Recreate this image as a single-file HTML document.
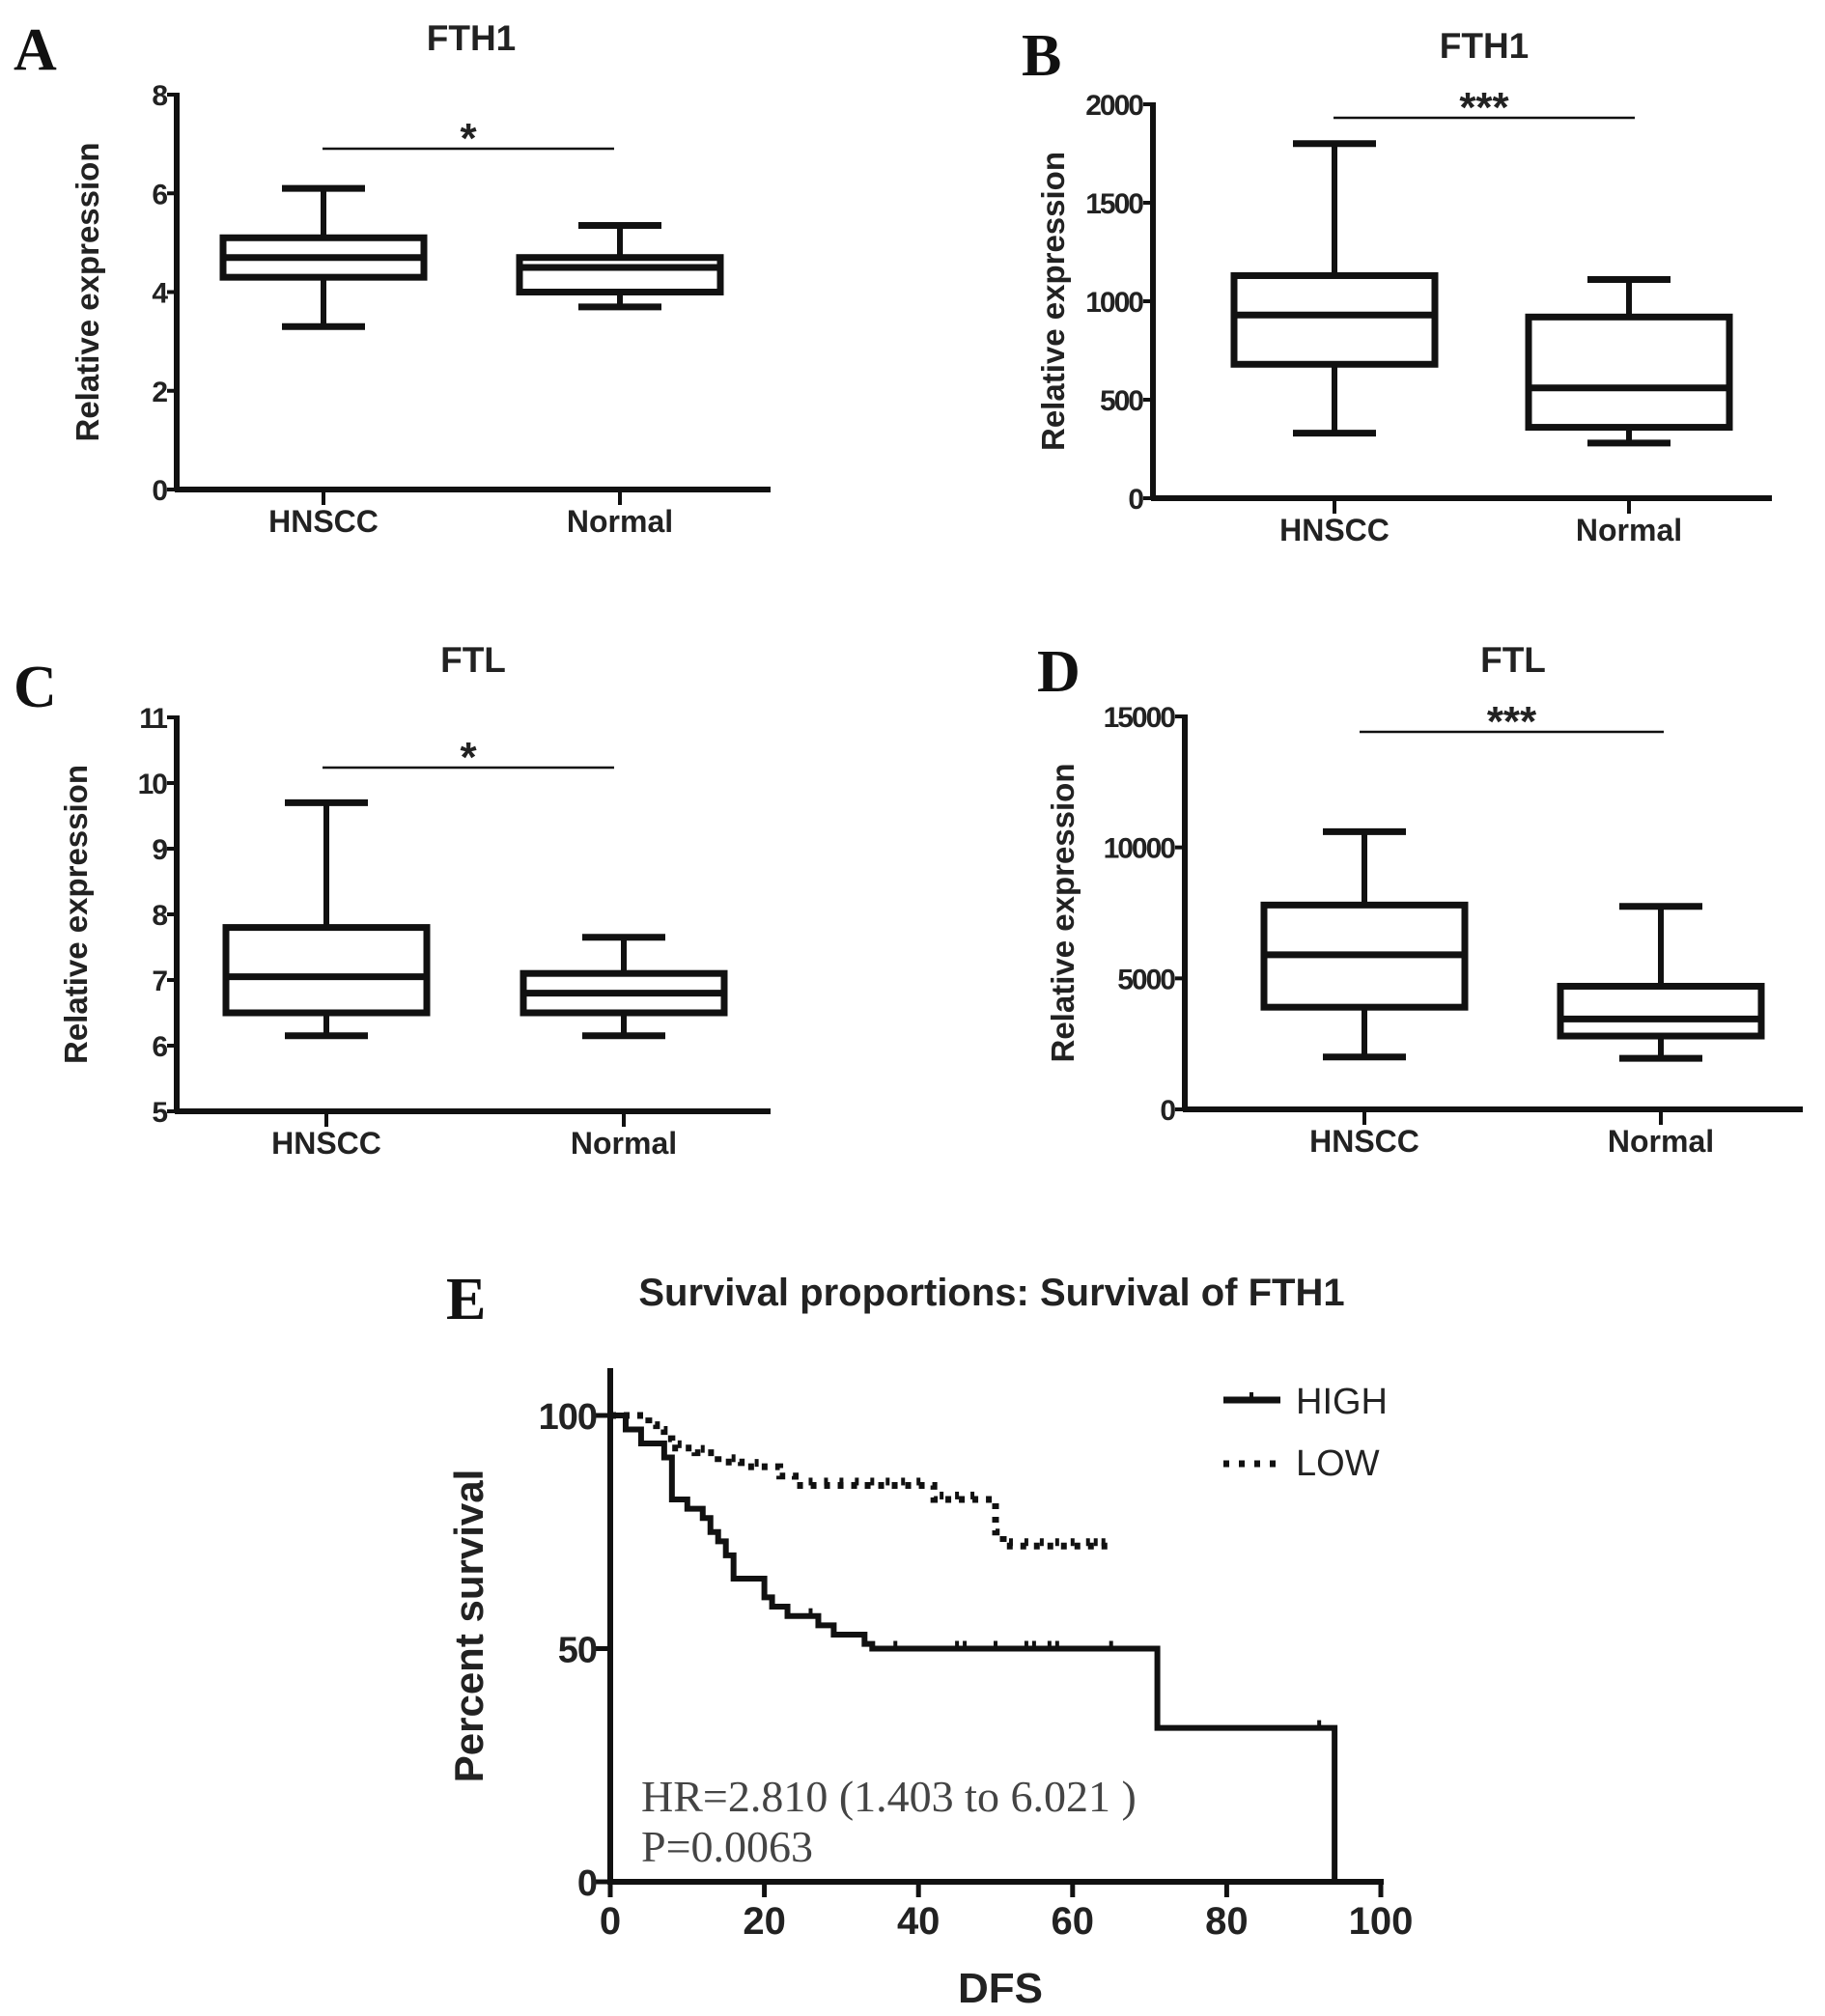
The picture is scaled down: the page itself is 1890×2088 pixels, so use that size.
<!DOCTYPE html>
<html><head><meta charset="utf-8"><style>
html,body{margin:0;padding:0;background:#fff;}
svg{display:block;}
.t{font-family:"Liberation Sans",sans-serif;font-weight:bold;fill:#222;}
.L{font-family:"Liberation Serif",serif;font-weight:bold;fill:#111;}
</style></head><body>
<svg id="fig" width="1890" height="2088" viewBox="0 0 1890 2088" xmlns="http://www.w3.org/2000/svg"></svg>
<script>
// ---- box plot data ----
const categories = ["HNSCC","Normal"];
const aMin=[3.3,3.7], aQ1=[4.3,4.0], aMed=[4.7,4.5], aQ3=[5.1,4.7], aMax=[6.1,5.35];
const aTicks=[0,2,4,6,8];
const bMin=[330,280], bQ1=[680,360], bMed=[930,560], bQ3=[1130,920], bMax=[1800,1110];
const bTicks=[0,500,1000,1500,2000];
const cMin=[6.15,6.15], cQ1=[6.5,6.5], cMed=[7.05,6.8], cQ3=[7.8,7.1], cMax=[9.7,7.65];
const cTicks=[5,6,7,8,9,10,11];
const dMin=[2000,1950], dQ1=[3900,2800], dMed=[5900,3450], dQ3=[7800,4700], dMax=[10600,7750];
const dTicks=[0,5000,10000,15000];
// ---- survival data ----
const highT=[0,2,4,7,8,8,10,12,13,14,15,16,20,21,23,27,29,33,34,71,94];
const highS=[100,97,94,91,88,82,80,78,75,73,70,65,61,59,57,55,53,51,50,33,0];
const highCensT=[26,37,45,46,50,54,55,57,58,65,92];
const lowT=[0,5,6,7,8,11,14,17,22,24,42,50,51,65];
const lowS=[100,98,97,95,93,92,90,89,87,85,82,75,72,72];
const lowCensT=[9,12,16,19,26,28,30,32,34,36,38,40,43,45,47,52,54,56,58,60,62,63,64];
const survTicksX=[0,20,40,60,80,100];
const survTicksY=[0,50,100];

const NS="http://www.w3.org/2000/svg";
const svg=document.getElementById('fig');
function mk(tag,attrs,parent){const e=document.createElementNS(NS,tag);for(const k in attrs)e.setAttribute(k,attrs[k]);(parent||svg).appendChild(e);return e;}
function line(g,x1,y1,x2,y2,w){return mk('line',{x1,y1,x2,y2,stroke:'#111','stroke-width':w},g);}
function txt(g,x,y,s,size,cls,anchor){const e=mk('text',{x,y,'font-size':size,'class':cls,'text-anchor':anchor||'middle'},g);e.textContent=s;return e;}

function boxPanel(o){
  const g=mk('g',{});
  
  
  const ys=v=>o.y0+(v-o.vmin)/(o.vmax-o.vmin)*(o.y1-o.y0);
  const xs=[o.cx0,o.cx1];
  const lt=txt(g,o.lx,o.ly,o.letter,62,'L','start');
  
  const tt=txt(g,o.tx,o.ty,o.title,37,'t');
  
  line(g,o.ax,o.y1-2,o.ax,o.y0+2,6);
  line(g,o.ax-2,o.y0,o.xend,o.y0,6);
  o.ticks.forEach(v=>{const y=ys(v);line(g,o.ax-10,y,o.ax,y,4);
    const tl=txt(g,o.ax-11,y+11,String(v),30,'t','end');
    tl.setAttribute('letter-spacing','-2');
    });
  const yl=txt(g,0,0,'Relative expression',33,'t');
  yl.setAttribute('transform',`translate(${o.ylx},${(o.y0+o.y1)/2}) rotate(-90)`);
  
  categories.forEach((c,i)=>{
    const x=xs[i];line(g,x,o.y0,x,o.y0+16,4);
    const cl=txt(g,x,o.y0+44,c,32,'t');
    
    const b=mk('g',{},g);
    
    
    line(b,x,ys(o.max[i]),x,ys(o.q3[i]),6);
    line(b,x,ys(o.min[i]),x,ys(o.q1[i]),6);
    line(b,x-43,ys(o.max[i]),x+43,ys(o.max[i]),7);
    line(b,x-43,ys(o.min[i]),x+43,ys(o.min[i]),7);
    mk('rect',{x:x-104,y:ys(o.q3[i]),width:208,height:ys(o.q1[i])-ys(o.q3[i]),fill:'none',stroke:'#111','stroke-width':7},b);
    line(b,x-104,ys(o.med[i]),x+104,ys(o.med[i]),7);
  });
  const sl=line(g,o.sx0,o.sy,o.sx1,o.sy,2.5);
  
  const st=txt(g,(o.sx0+o.sx1)/2,o.sy+4,o.sig,44,'t');
  st.setAttribute('fill','#444');
}
boxPanel({name:'panel-a',letter:'A',lx:14,ly:72,title:'FTH1',tx:488,ty:52,ax:183,y0:507,y1:98,xend:798,vmin:0,vmax:8,ticks:aTicks,cx0:335,cx1:642,min:aMin,q1:aQ1,med:aMed,q3:aQ3,max:aMax,ylx:102,sx0:334,sx1:636,sy:154,sig:'*'});
boxPanel({name:'panel-b',letter:'B',lx:1058,ly:78,title:'FTH1',tx:1537,ty:60,ax:1194,y0:516,y1:108,xend:1835,vmin:0,vmax:2000,ticks:bTicks,cx0:1382,cx1:1687,min:bMin,q1:bQ1,med:bMed,q3:bQ3,max:bMax,ylx:1102,sx0:1381,sx1:1693,sy:122,sig:'***'});
boxPanel({name:'panel-c',letter:'C',lx:14,ly:732,title:'FTL',tx:490,ty:696,ax:183,y0:1151,y1:743,xend:798,vmin:5,vmax:11,ticks:cTicks,cx0:338,cx1:646,min:cMin,q1:cQ1,med:cMed,q3:cQ3,max:cMax,ylx:90,sx0:334,sx1:636,sy:795,sig:'*'});
boxPanel({name:'panel-d',letter:'D',lx:1074,ly:716,title:'FTL',tx:1567,ty:696,ax:1227,y0:1149,y1:742,xend:1867,vmin:0,vmax:15000,ticks:dTicks,cx0:1413,cx1:1720,min:dMin,q1:dQ1,med:dMed,q3:dQ3,max:dMax,ylx:1112,sx0:1408,sx1:1723,sy:758,sig:'***'});

// ---- survival panel ----
(function(){
  const g=mk('g',{});
  
  
  const X0=632,X1=1430,Y0=1949,Y100=1466;
  const xs=t=>X0+t/100*(X1-X0), ys=s=>Y0+s/100*(Y100-Y0);
  const lt=txt(g,462,1366,'E',62,'L','start');
  
  const tt=txt(g,1027,1352,'Survival proportions: Survival of FTH1',40,'t');
  
  line(g,X0,1417,X0,Y0+3,6);line(g,X0-3,Y0,X1+3,Y0,6);
  survTicksX.forEach(v=>{line(g,xs(v),Y0,xs(v),Y0+16,5);
    const l=txt(g,xs(v),Y0+54,String(v),40,'t');});
  survTicksY.forEach(v=>{line(g,X0-16,ys(v),X0,ys(v),5);
    const l=txt(g,X0-14,ys(v)+14,String(v),38,'t','end');l.setAttribute('letter-spacing','-1');});
  const yl=txt(g,0,0,'Percent survival',42,'t');
  yl.setAttribute('transform','translate(500,1684) rotate(-90)');
  
  const xl=txt(g,1036,2074,'DFS',44,'t');
  
  function stepPath(T,S){let d=`M${xs(T[0])},${ys(S[0])}`;for(let i=1;i<T.length;i++){d+=` H${xs(T[i])} V${ys(S[i])}`;}return d;}
  function survAt(T,S,t){let s=S[0];for(let i=0;i<T.length;i++){if(T[i]<=t)s=S[i];}return s;}
  const ph=mk('path',{d:stepPath(highT,highS),fill:'none',stroke:'#111','stroke-width':6},g);
  
  highCensT.forEach(t=>{const y=ys(survAt(highT,highS,t));const c=line(g,xs(t),y-8,xs(t),y,4);
    });
  const pl=mk('path',{d:stepPath(lowT,lowS),fill:'none',stroke:'#111','stroke-width':7,'stroke-dasharray':'6 8'},g);
  
  lowCensT.forEach(t=>{const y=ys(survAt(lowT,lowS,t));const c=line(g,xs(t),y-8,xs(t),y,4);
    });
  const lg=mk('g',{},g);
  
  line(lg,1267,1450,1326,1450,7);line(lg,1296,1442,1296,1450,4);
  txt(lg,1342,1464,'HIGH',38,'t','start').setAttribute('style','font-weight:normal');
  mk('line',{x1:1267,y1:1516,x2:1326,y2:1516,stroke:'#111','stroke-width':7,'stroke-dasharray':'6 10'},lg);
  txt(lg,1342,1528,'LOW',38,'t','start').setAttribute('style','font-weight:normal');
  const hr=txt(g,664,1876,'HR=2.810 (1.403 to 6.021 )',46,'L','start');
  hr.setAttribute('style','font-weight:normal;fill:#444');
  const p=txt(g,664,1928,'P=0.0063',46,'L','start');
  p.setAttribute('style','font-weight:normal;fill:#444');
})();
</script>
</body></html>
